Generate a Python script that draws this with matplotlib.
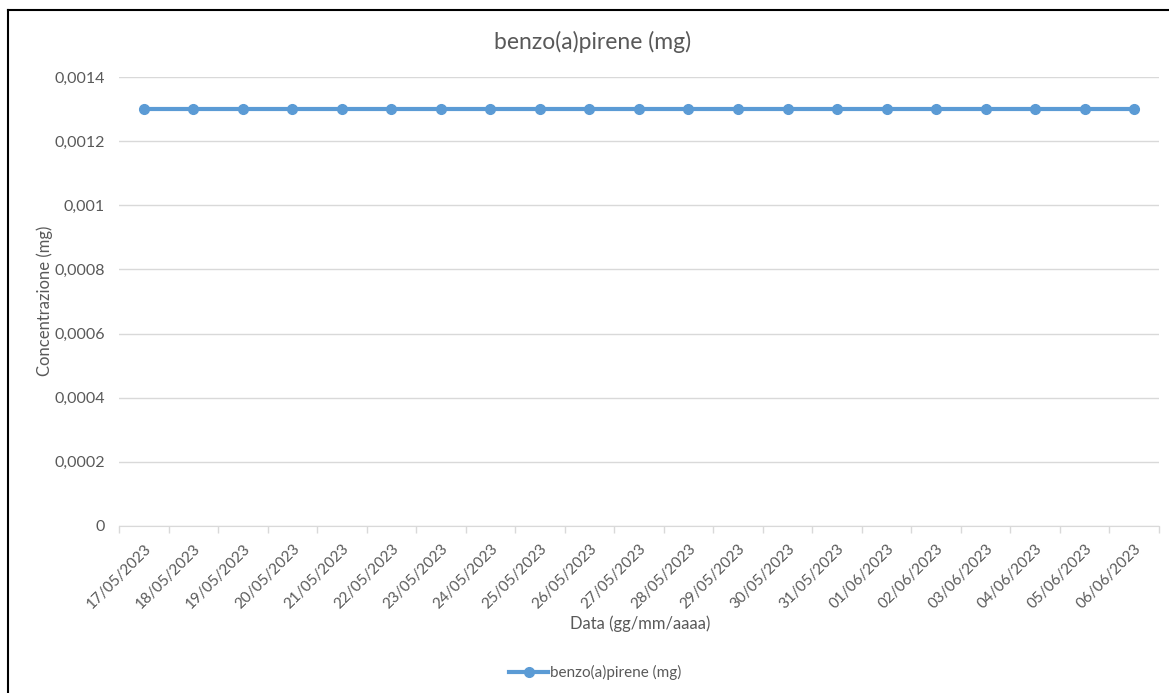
import matplotlib.pyplot as plt
import numpy as np
from matplotlib.lines import Line2D
from matplotlib.ticker import FuncFormatter

# Data
dates = ['17/05/2023', '18/05/2023', '19/05/2023', '20/05/2023', '21/05/2023',
         '22/05/2023', '23/05/2023', '24/05/2023', '25/05/2023', '26/05/2023',
         '27/05/2023', '28/05/2023', '29/05/2023', '30/05/2023', '31/05/2023',
         '01/06/2023', '02/06/2023', '03/06/2023', '04/06/2023', '05/06/2023',
         '06/06/2023']
benzo_a_pirene = [0.0013, 0.0013, 0.0013, 0.0013, 0.0013, 0.0013, 0.0013,
                  0.0013, 0.0013, 0.0013, 0.0013, 0.0013, 0.0013, 0.0013,
                  0.0013, 0.0013, 0.0013, 0.0013, 0.0013, 0.0013, 0.0013]
y_ticks = [0, 0.0002, 0.0004, 0.0006, 0.0008, 0.001, 0.0012, 0.0014]

plt.rcParams['font.family'] = ['Lato', 'DejaVu Sans']
text_color = '#595959'
grid_color = '#d9d9d9'
line_color = '#5b9bd5'

fig = plt.figure(figsize=(11.69, 6.93), dpi=100)
ax = fig.add_axes([0.1018, 0.241, 0.8896, 0.648])

x = np.arange(len(dates))
ax.plot(x, benzo_a_pirene, color=line_color, linewidth=3, marker='o',
        markersize=7, label='benzo(a)pirene (mg)')

ax.set_xlim(-0.5, len(dates) - 0.5)
ax.set_ylim(0, 0.0014)
ax.set_yticks(y_ticks)
ax.yaxis.set_major_formatter(FuncFormatter(
    lambda v, p: '0' if v == 0 else f'{v:.4f}'.rstrip('0').replace('.', ',')))
ax.grid(axis='y', color=grid_color, linewidth=1)
ax.set_axisbelow(True)

# category labels, tick marks at category boundaries
ax.set_xticks(x)
ax.set_xticklabels(dates, rotation=45, ha='right', rotation_mode='anchor')
ax.set_xticks(np.arange(-0.5, len(dates)), minor=True)
ax.tick_params(axis='x', which='major', length=0, pad=11, labelsize=11, labelcolor=text_color)
ax.tick_params(axis='x', which='minor', length=5, color=grid_color, width=1)
ax.tick_params(axis='y', length=0, pad=10, labelsize=11.5, labelcolor=text_color)

for side in ['top', 'right', 'left']:
    ax.spines[side].set_visible(False)
ax.spines['bottom'].set_color(grid_color)

fig.text(0.5065, 0.939, 'benzo(a)pirene (mg)', ha='center', va='center',
         fontsize=16.5, color=text_color)
fig.text(0.5475, 0.0996, 'Data (gg/mm/aaaa)', ha='center', va='center',
         fontsize=12, color=text_color)
fig.text(0.038, 0.566, 'Concentrazione (mg)', ha='center', va='center',
         rotation=90, fontsize=12, color=text_color)

handle = Line2D([], [], color=line_color, linewidth=3, marker='o', markersize=7)
fig.legend([handle], ['benzo(a)pirene (mg)'], loc='center', bbox_to_anchor=(0.509, 0.029),
           frameon=False, fontsize=11, labelcolor=text_color, handlelength=2.6,
           handletextpad=0.1)

# outer border (left and top only, as in the reference)
fig.add_artist(Line2D([8 / 1169, 8 / 1169], [0, 1 - 10 / 693], color='black', linewidth=1.5))
fig.add_artist(Line2D([8 / 1169, 1], [1 - 10 / 693, 1 - 10 / 693], color='black', linewidth=1.5))

fig.savefig('out.png', dpi=100)
